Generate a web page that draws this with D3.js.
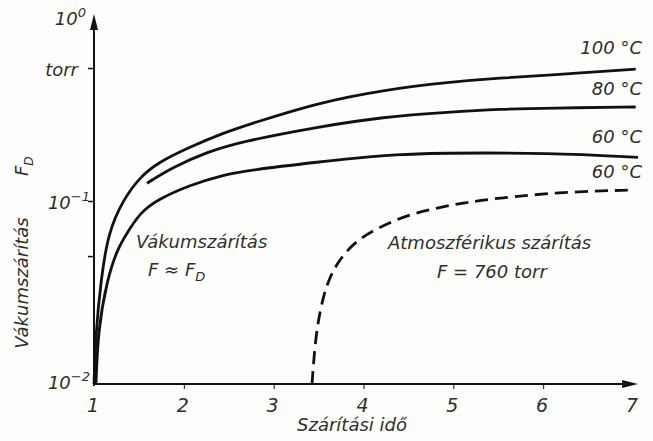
<!DOCTYPE html>
<html>
<head>
<meta charset="utf-8">
<script src="https://cdn.jsdelivr.net/npm/d3@7"></script>
<style>
  body { margin: 0; background: #fdfdfc; }
  svg { display: block; }
  text { font-family: "DejaVu Sans", sans-serif; font-style: italic; fill: #2e2e2e; }
</style>
</head>
<body>
<svg id="chart" width="653" height="441"></svg>
<script>
// drying time (x) and vacuum pressure F_D in torr (y)
var t100 = [1, 1.022, 1.078, 1.156, 1.323, 1.512, 1.701, 2.069, 2.436, 2.737, 3.482, 4.217, 4.963, 5.52, 6.076, 7.03];
var f100 = [0.01, 0.0197, 0.037, 0.0668, 0.102, 0.151, 0.193, 0.255, 0.324, 0.379, 0.546, 0.684, 0.785, 0.841, 0.885, 0.98];

var t80 = [1.59, 1.879, 2.258, 2.625, 3.482, 4.217, 4.963, 5.52, 6.076, 7.03];
var f80 = [0.136, 0.18, 0.233, 0.278, 0.36, 0.429, 0.467, 0.49, 0.5, 0.509];

var t60 = [1.022, 1.045, 1.145, 1.256, 1.367, 1.512, 1.701, 2.069, 2.436, 2.737, 3.482, 4.217, 4.85, 6.076, 7.056];
var f60 = [0.01, 0.0197, 0.037, 0.054, 0.0668, 0.086, 0.102, 0.132, 0.157, 0.171, 0.196, 0.222, 0.23, 0.23, 0.213];

// atmospheric drying, 60 °C (dashed)
var tAtm = [3.427, 3.46, 3.516, 3.594, 3.705, 3.883, 4.15, 4.484, 4.852, 5.186, 5.486, 6.221, 7.0];
var fAtm = [0.01, 0.0168, 0.0254, 0.0356, 0.0458, 0.0589, 0.0711, 0.0838, 0.0927, 0.0988, 0.105, 0.117, 0.121];

var xTicks = [1, 2, 3, 4, 5, 6, 7];
var yTicks = [0.01, 0.05, 0.1, 1];
var curveLabels = ["100 °C", "80 °C", "60 °C", "60 °C"];

var svg = d3.select("#chart");
var ink = "#111";

var x = d3.scaleLinear().domain([1, 7]).range([94, 633]);
// hand drawn log axis, decades are not equally long
var y = d3.scaleLog().domain([0.01, 0.1, 1]).range([384, 201, 68]);

// axes
var xAxis = svg.append("g")
    .attr("transform", "translate(0,384)")
    .call(d3.axisBottom(x).tickValues(xTicks.slice(1, -1)).tickSize(5).tickFormat(""));
xAxis.select(".domain").remove();
xAxis.selectAll("line").attr("stroke", ink).attr("stroke-width", 1);

var yAxis = svg.append("g")
    .attr("transform", "translate(94,0)")
    .call(d3.axisLeft(y).tickValues(yTicks.slice(1)).tickSize(6).tickFormat(""));
yAxis.select(".domain").remove();
yAxis.selectAll("line").attr("stroke", ink).attr("stroke-width", 1.5);

svg.append("line")
    .attr("x1", 94).attr("x2", 94).attr("y1", 386).attr("y2", 22)
    .attr("stroke", ink).attr("stroke-width", 2);
svg.append("path")
    .attr("d", "M94,14 L90,30 L98,30 Z")
    .attr("fill", ink);

svg.append("line")
    .attr("x1", 93).attr("x2", 628).attr("y1", 384).attr("y2", 384)
    .attr("stroke", ink).attr("stroke-width", 2);
svg.append("path")
    .attr("d", "M638,384 L622,380 L622,388 Z")
    .attr("fill", ink);

// tick labels
svg.selectAll(".xlab")
    .data(xTicks)
    .enter().append("text")
    .attr("class", "xlab")
    .attr("x", function(d) { return x(d) - 1; })
    .attr("y", 412)
    .attr("text-anchor", "middle")
    .attr("font-size", "19px")
    .text(function(d) { return d; });

function power(xp, yp, base, exp) {
    var t = svg.append("text")
        .attr("x", xp).attr("y", yp)
        .attr("text-anchor", "end")
        .attr("font-size", "18px");
    t.append("tspan").text(base);
    t.append("tspan").attr("dy", -8).attr("font-size", "13px").text(exp);
    return t;
}
power(86, 25, "10", "0");
power(90, 209, "10", "−1");
power(90, 389, "10", "−2");

svg.append("text")
    .attr("x", 78).attr("y", 76)
    .attr("text-anchor", "end")
    .attr("font-size", "18px")
    .text("torr");

// axis titles
svg.append("text")
    .attr("x", 352).attr("y", 431)
    .attr("text-anchor", "middle")
    .attr("font-size", "18px")
    .text("Szárítási idő");

svg.append("text")
    .attr("transform", "translate(28,283) rotate(-90)")
    .attr("text-anchor", "middle")
    .attr("font-size", "18px")
    .text("Vákumszárítás");
var fd = svg.append("text")
    .attr("transform", "translate(28,176) rotate(-90)")
    .attr("font-size", "18px");
fd.append("tspan").text("F");
fd.append("tspan").attr("dy", 5).attr("font-size", "12px").text("D");

// curves
var line = d3.line()
    .x(function(d) { return x(d[0]); })
    .y(function(d) { return y(d[1]); })
    .curve(d3.curveBasis);

var series = [
    { t: t100, f: f100, dash: null },
    { t: t80, f: f80, dash: null },
    { t: t60, f: f60, dash: null },
    { t: tAtm, f: fAtm, dash: "13,7" }
];

series.forEach(function(s) {
    svg.append("path")
        .datum(d3.zip(s.t, s.f))
        .attr("d", line)
        .attr("fill", "none")
        .attr("stroke", ink)
        .attr("stroke-width", 2.8)
        .attr("stroke-linecap", "butt")
        .attr("stroke-dasharray", s.dash);
});

// curve labels
var labelY = [54, 95, 143, 178];
curveLabels.forEach(function(l, i) {
    svg.append("text")
        .attr("x", 642).attr("y", labelY[i])
        .attr("text-anchor", "end")
        .attr("font-size", "18px")
        .text(l);
});

// annotations
svg.append("text")
    .attr("x", 136).attr("y", 248)
    .attr("font-size", "18px")
    .text("Vákumszárítás");
var fa = svg.append("text")
    .attr("x", 148).attr("y", 276)
    .attr("font-size", "18px");
fa.append("tspan").text("F ≈ F");
fa.append("tspan").attr("dy", 5).attr("font-size", "13px").text("D");

svg.append("text")
    .attr("x", 388).attr("y", 249)
    .attr("font-size", "18px")
    .text("Atmoszférikus  szárítás");
svg.append("text")
    .attr("x", 437).attr("y", 278)
    .attr("font-size", "18px")
    .text("F = 760  torr");
</script>
</body>
</html>
